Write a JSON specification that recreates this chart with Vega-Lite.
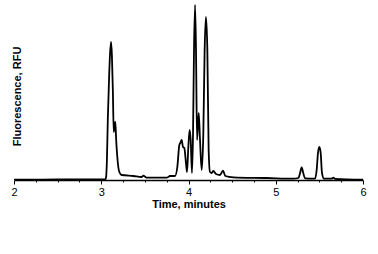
{
  "$schema": "https://vega.github.io/schema/vega-lite/v6.json",
  "autosize": {"type": "none"},
  "width": 349,
  "height": 176,
  "padding": {"left": 14, "top": 4, "right": 15, "bottom": 74},
  "background": "white",
  "config": {"view": {"stroke": null}, "font": "Liberation Sans"},
  "data": {"values": [
    {"t": 2.0, "v": 0.3}, {"t": 2.5, "v": 0.5}, {"t": 3.0, "v": 0.5}, {"t": 3.045, "v": 0.8},
    {"t": 3.054, "v": 2}, {"t": 3.065, "v": 20}, {"t": 3.075, "v": 60}, {"t": 3.089, "v": 100},
    {"t": 3.1, "v": 125}, {"t": 3.112, "v": 138}, {"t": 3.122, "v": 125}, {"t": 3.133, "v": 90},
    {"t": 3.143, "v": 48}, {"t": 3.152, "v": 55}, {"t": 3.161, "v": 58}, {"t": 3.17, "v": 42},
    {"t": 3.184, "v": 23}, {"t": 3.207, "v": 8}, {"t": 3.234, "v": 5}, {"t": 3.368, "v": 4},
    {"t": 3.463, "v": 3}, {"t": 3.482, "v": 4.3}, {"t": 3.52, "v": 2.3}, {"t": 3.75, "v": 2.3},
    {"t": 3.788, "v": 4}, {"t": 3.845, "v": 4}, {"t": 3.872, "v": 13}, {"t": 3.895, "v": 35},
    {"t": 3.906, "v": 37}, {"t": 3.922, "v": 40}, {"t": 3.937, "v": 33}, {"t": 3.952, "v": 32},
    {"t": 3.971, "v": 17}, {"t": 3.983, "v": 8}, {"t": 3.998, "v": 33}, {"t": 4.013, "v": 50},
    {"t": 4.025, "v": 40}, {"t": 4.04, "v": 7}, {"t": 4.052, "v": 47}, {"t": 4.063, "v": 130},
    {"t": 4.075, "v": 175}, {"t": 4.086, "v": 130}, {"t": 4.098, "v": 40}, {"t": 4.117, "v": 67},
    {"t": 4.132, "v": 40}, {"t": 4.151, "v": 10}, {"t": 4.17, "v": 47}, {"t": 4.185, "v": 130},
    {"t": 4.2, "v": 163}, {"t": 4.216, "v": 130}, {"t": 4.231, "v": 30}, {"t": 4.246, "v": 8},
    {"t": 4.266, "v": 7}, {"t": 4.285, "v": 9}, {"t": 4.315, "v": 6}, {"t": 4.361, "v": 5},
    {"t": 4.395, "v": 9.3}, {"t": 4.422, "v": 4}, {"t": 4.514, "v": 2.7}, {"t": 4.896, "v": 2},
    {"t": 5.2, "v": 1.3}, {"t": 5.26, "v": 2}, {"t": 5.278, "v": 6.7}, {"t": 5.297, "v": 12.7},
    {"t": 5.316, "v": 6.7}, {"t": 5.335, "v": 1.7}, {"t": 5.45, "v": 1.3}, {"t": 5.469, "v": 10},
    {"t": 5.484, "v": 27}, {"t": 5.5, "v": 33}, {"t": 5.515, "v": 27}, {"t": 5.53, "v": 7},
    {"t": 5.553, "v": 1.3}, {"t": 5.64, "v": 1.3}, {"t": 5.66, "v": 2.3}, {"t": 5.68, "v": 1.2},
    {"t": 6.0, "v": 0.3}
  ]},
  "mark": {"type": "line", "color": "black", "strokeWidth": 1.8, "interpolate": "monotone", "clip": true},
  "encoding": {
    "x": {
      "field": "t", "type": "quantitative",
      "scale": {"domain": [2, 6], "nice": false, "zero": false},
      "axis": {
        "title": "Time, minutes",
        "values": [2, 2.25, 2.5, 2.75, 3, 3.25, 3.5, 3.75, 4, 4.25, 4.5, 4.75, 5, 5.25, 5.5, 5.75, 6],
        "labelExpr": "datum.value % 1 === 0 ? format(datum.value, 'd') : ''",
        "tickSize": {"condition": {"test": "datum.value % 1 === 0", "value": 4}, "value": 2},
        "tickColor": "black",
        "tickWidth": 1,
        "domainColor": "black",
        "domainWidth": 1.5,
        "grid": false,
        "labelFontSize": 11,
        "labelColor": "black",
        "labelPadding": 2,
        "labelFlush": false,
        "titleFontSize": 11,
        "titleFontWeight": "bold",
        "titleColor": "black",
        "titlePadding": 1
      }
    },
    "y": {
      "field": "v", "type": "quantitative",
      "scale": {"domain": [0, 176], "nice": false},
      "axis": {
        "title": "Fluorescence,  RFU",
        "domain": false, "ticks": false, "labels": false, "grid": false,
        "titleX": 3, "titleY": 92, "titleAngle": -90,
        "titleAlign": "center", "titleBaseline": "middle",
        "titleFontSize": 11, "titleFontWeight": "bold", "titleColor": "black"
      }
    }
  }
}
